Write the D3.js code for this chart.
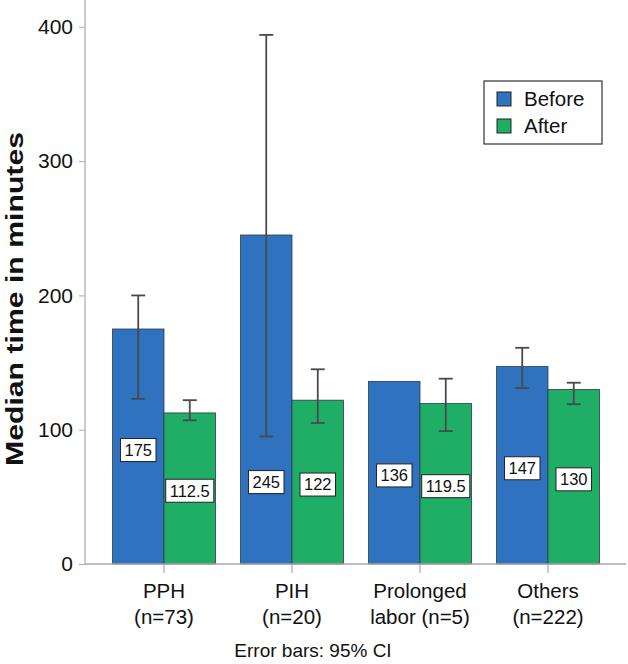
<!DOCTYPE html>
<html>
<head>
<meta charset="utf-8">
<script src="https://cdn.jsdelivr.net/npm/d3@7"></script>
<style>
  html, body { margin: 0; padding: 0; background: #fff; }
  svg { display: block; font-family: "Liberation Sans", Arial, Helvetica, sans-serif; }
</style>
</head>
<body>
<svg id="chart" width="628" height="664"></svg>
<script>
// ---- data ----
const categories = ["PPH", "PIH", "Prolonged labor", "Others"];
const categoryLines = [["PPH", "(n=73)"], ["PIH", "(n=20)"], ["Prolonged", "labor (n=5)"], ["Others", "(n=222)"]];
const seriesNames = ["Before", "After"];
const beforeValues = [175, 245, 136, 147];
const afterValues = [112.5, 122, 119.5, 130];
const beforeLabels = ["175", "245", "136", "147"];
const afterLabels = ["112.5", "122", "119.5", "130"];
const beforeCILow = [123, 95, null, 131];
const beforeCIHigh = [200, 394, null, 161];
const afterCILow = [107, 105, 99, 119];
const afterCIHigh = [122, 145, 138, 135];
const yTicks = [0, 100, 200, 300, 400];
const colors = { Before: "#2f72bf", After: "#1fae66" };

// ---- build ----
const svg = d3.select("#chart");
const x = d3.scaleBand().domain(categories).range([100, 612]).paddingInner(0.195).paddingOuter(0.0975);
const xs = d3.scaleBand().domain(seriesNames).range([0, x.bandwidth()]);
const y = d3.scaleLinear().domain([0, 420]).range([564, 0]);

const rows = [];
categories.forEach((c, i) => {
  rows.push({ cat: c, s: "Before", v: beforeValues[i], lab: beforeLabels[i], lo: beforeCILow[i], hi: beforeCIHigh[i], partner: afterValues[i] });
  rows.push({ cat: c, s: "After", v: afterValues[i], lab: afterLabels[i], lo: afterCILow[i], hi: afterCIHigh[i], partner: beforeValues[i] });
});

// bars
svg.append("g").selectAll("rect").data(rows).join("rect")
  .attr("x", d => x(d.cat) + xs(d.s))
  .attr("y", d => y(d.v))
  .attr("width", xs.bandwidth())
  .attr("height", d => y(0) - y(d.v))
  .attr("fill", d => colors[d.s])
  .attr("stroke", "#2d3b4a")
  .attr("stroke-width", 0.8);

// axes
const yAxis = svg.append("g").attr("transform", "translate(85,0)")
  .call(d3.axisLeft(y).tickValues(yTicks).tickSize(6).tickPadding(6));
yAxis.select(".domain").attr("d", `M0,0V${y(0)}`);
yAxis.selectAll("line").attr("stroke", "#aaa");
yAxis.select(".domain").attr("stroke", "#bbb").attr("stroke-width", 1.5);
yAxis.selectAll("text").attr("font-size", 21).attr("fill", "#111")
  .attr("font-family", "Liberation Sans, Arial, sans-serif");

const xAxisG = svg.append("g").attr("transform", `translate(0,${y(0)})`);
xAxisG.append("line").attr("x1", 85).attr("x2", 626).attr("y1", 0).attr("y2", 0)
  .attr("stroke", "#aaa").attr("stroke-width", 1.5);
xAxisG.selectAll("line.tick").data(categories).join("line").attr("class", "tick")
  .attr("x1", d => x(d) + x.bandwidth() / 2).attr("x2", d => x(d) + x.bandwidth() / 2)
  .attr("y1", 0).attr("y2", 9).attr("stroke", "#999");
const xl = xAxisG.selectAll("text.cat").data(categories).join("text").attr("class", "cat")
  .attr("text-anchor", "middle").attr("font-size", 20.5).attr("fill", "#111")
  .attr("transform", d => `translate(${x(d) + x.bandwidth() / 2},0)`);
xl.each(function (d, i) {
  const t = d3.select(this);
  categoryLines[i].forEach((ln, k) => {
    t.append("tspan").attr("x", 0).attr("y", 34 + k * 26).text(ln);
  });
});

// error bars
const eb = svg.append("g").selectAll("g").data(rows.filter(d => d.lo != null)).join("g")
  .attr("transform", d => `translate(${x(d.cat) + xs(d.s) + xs.bandwidth() / 2},0)`)
  .attr("stroke", "#4a4a4a").attr("stroke-width", 1.8);
eb.append("line").attr("y1", d => y(d.lo)).attr("y2", d => y(d.hi));
eb.append("line").attr("x1", -7).attr("x2", 7).attr("y1", d => y(d.lo)).attr("y2", d => y(d.lo));
eb.append("line").attr("x1", -7).attr("x2", 7).attr("y1", d => y(d.hi)).attr("y2", d => y(d.hi));

// value labels
const lab = svg.append("g").selectAll("g").data(rows).join("g")
  .attr("transform", d => {
    let lv = d.v * 0.485;
    if (lv > 100) lv = d.partner * 0.5;
    return `translate(${x(d.cat) + xs(d.s) + xs.bandwidth() / 2},${y(lv)})`;
  });
lab.append("text").attr("text-anchor", "middle").attr("dy", "0.36em")
  .attr("font-size", 16.5).attr("fill", "#111").text(d => d.lab);
lab.each(function () {
  const g = d3.select(this);
  const bb = g.select("text").node().getBBox();
  g.insert("rect", "text").attr("x", bb.x - 4).attr("y", -11.5)
    .attr("width", bb.width + 8).attr("height", 23)
    .attr("fill", "#fff").attr("stroke", "#222").attr("stroke-width", 1);
});

// y title
svg.append("text").attr("transform", `translate(23,${y(0) / 2 + 17}) rotate(-90)`)
  .attr("text-anchor", "middle").attr("font-size", 24).attr("font-weight", "bold")
  .attr("textLength", 334).attr("lengthAdjust", "spacingAndGlyphs")
  .attr("fill", "#111").text("Median time in minutes");

// footer
svg.append("text").attr("x", 313).attr("y", 657).attr("text-anchor", "middle")
  .attr("font-size", 19).attr("fill", "#111").text("Error bars: 95% CI");

// legend
const lg = svg.append("g").attr("transform", "translate(484,81)");
lg.append("rect").attr("width", 118).attr("height", 63).attr("fill", "#fff")
  .attr("stroke", "#333").attr("stroke-width", 1.2);
seriesNames.forEach((s, i) => {
  lg.append("rect").attr("x", 13).attr("y", 11 + i * 27).attr("width", 14).attr("height", 14)
    .attr("fill", colors[s]).attr("stroke", "#222").attr("stroke-width", 1);
  lg.append("text").attr("x", 40).attr("y", 25 + i * 27).attr("font-size", 20.5)
    .attr("fill", "#111").text(s);
});
</script>
</body>
</html>
